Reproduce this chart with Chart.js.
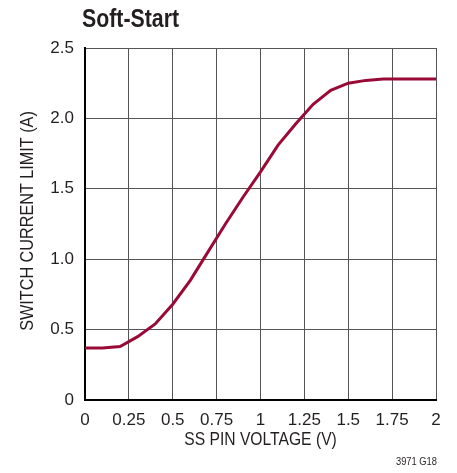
<!DOCTYPE html>
<html>
<head>
<meta charset="utf-8">
<script src="https://cdn.jsdelivr.net/npm/chart.js@4"></script>
<style>
    html, body { margin: 0; padding: 0; background: #fff; }
    #wrap { position: relative; width: 457px; height: 473px; }
</style>
</head>
<body>
<div id="wrap"><canvas id="soft-start-chart"></canvas></div>
<script>
const ssVoltage = [0, 0.1, 0.2, 0.3, 0.4, 0.5, 0.6, 0.7, 0.8, 0.9, 1.0, 1.1, 1.2, 1.3, 1.4, 1.5, 1.6, 1.7, 1.8, 1.9, 2.0];
const currentLimit = [0.37, 0.37, 0.38, 0.45, 0.54, 0.68, 0.85, 1.05, 1.25, 1.44, 1.62, 1.81, 1.96, 2.1, 2.2, 2.25, 2.27, 2.28, 2.28, 2.28, 2.28];
const xTicks = [0, 0.25, 0.5, 0.75, 1, 1.25, 1.5, 1.75, 2];
const yTicks = [0, 0.5, 1.0, 1.5, 2.0, 2.5];

const FONT = '"Liberation Sans", Arial, sans-serif';
const INK = '#231f20';

// narrow text: the original uses a condensed face, so squeeze Liberation Sans
function narrowText(ctx, text, x, y, squeeze, rotate) {
    ctx.save();
    ctx.translate(x, y);
    if (rotate) {
        ctx.rotate(-Math.PI / 2);
    }
    ctx.scale(squeeze, 1);
    ctx.fillText(text, 0, 0);
    ctx.restore();
}

const labelsPlugin = {
    id: 'labels',
    afterDraw(chart) {
        const ctx = chart.ctx;
        const area = chart.chartArea;
        ctx.save();
        ctx.fillStyle = INK;

        ctx.font = `bold 26px ${FONT}`;
        ctx.textAlign = 'left';
        ctx.textBaseline = 'alphabetic';
        narrowText(ctx, 'Soft-Start', 82, 27, 0.82, false);

        ctx.font = `18px ${FONT}`;
        ctx.textAlign = 'center';
        ctx.textBaseline = 'middle';
        narrowText(ctx, 'SS PIN VOLTAGE (V)', (area.left + area.right) / 2, 440, 0.87, false);
        narrowText(ctx, 'SWITCH CURRENT LIMIT (A)', 28, 221, 0.9, true);

        ctx.font = `11px ${FONT}`;
        ctx.textAlign = 'right';
        narrowText(ctx, '3971 G18', 437, 462, 0.85, false);
        ctx.restore();
    },
};

new Chart(document.getElementById('soft-start-chart'), {
    type: 'line',
    data: {
        datasets: [{
            data: ssVoltage.map((v, i) => ({ x: v, y: currentLimit[i] })),
            borderColor: '#9a0a36',
            borderWidth: 3,
            pointRadius: 0,
            tension: 0,
            fill: false,
        }],
    },
    options: {
        responsive: true,
        maintainAspectRatio: false,
        animation: false,
        layout: { padding: { top: 48, right: 21, bottom: 0, left: 0 } },
        plugins: { legend: { display: false }, tooltip: { enabled: false } },
        scales: {
            x: {
                type: 'linear',
                min: 0,
                max: 2,
                afterFit: scale => { scale.height = 73; },
                afterBuildTicks: scale => { scale.ticks = xTicks.map(value => ({ value })); },
                ticks: {
                    color: INK,
                    padding: 10,
                    maxRotation: 0,
                    font: { family: FONT, size: 17 },
                    callback: value => String(value),
                },
                grid: { color: '#555', lineWidth: 1, drawTicks: false },
                border: { color: '#000', width: 2 },
            },
            y: {
                min: 0,
                max: 2.5,
                afterFit: scale => { scale.width = 85; },
                afterBuildTicks: scale => { scale.ticks = yTicks.map(value => ({ value })); },
                ticks: {
                    color: INK,
                    padding: 11,
                    font: { family: FONT, size: 17 },
                    callback: value => (value === 0 ? '0' : value.toFixed(1)),
                },
                grid: { color: '#555', lineWidth: 1, drawTicks: false },
                border: { color: '#000', width: 2 },
            },
        },
    },
    plugins: [labelsPlugin],
});
</script>
</body>
</html>
